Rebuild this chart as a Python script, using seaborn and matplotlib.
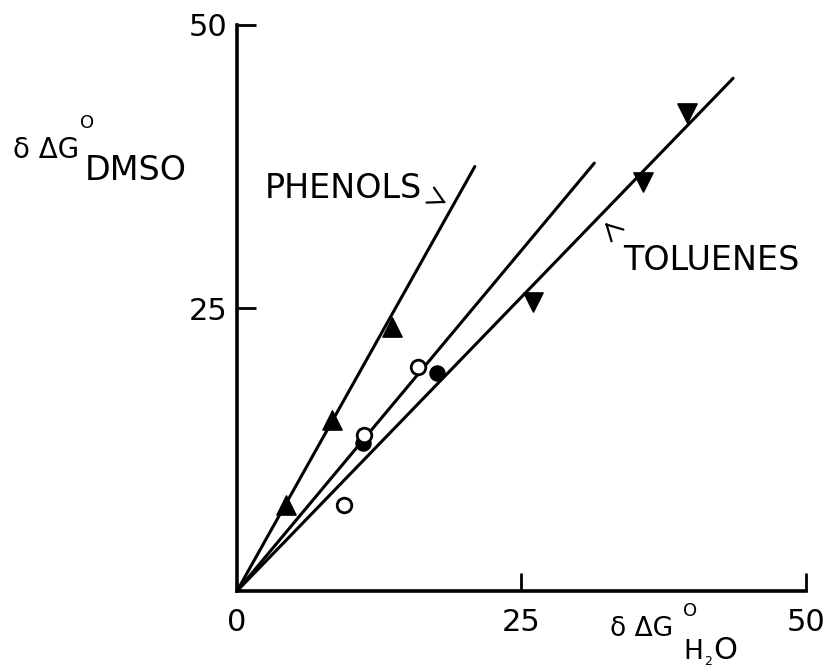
import matplotlib
matplotlib.use("Agg")
import matplotlib.pyplot as plt
import seaborn as sns
import pandas as pd

# ---- data ----
phenol_x = [4.3, 8.35, 13.6]
phenol_y = [7.6, 15.1, 23.3]

open_x = [9.4, 11.2, 15.9]
open_y = [7.6, 13.8, 19.8]

filled_x = [11.1, 17.6]
filled_y = [13.1, 19.3]

toluene_x = [26.0, 35.7, 39.5]
toluene_y = [25.5, 36.1, 42.2]

# fitted lines through origin: (end x, end y)
line_end_x = [20.9, 31.4, 43.6]
line_end_y = [37.5, 37.8, 45.3]

x_ticks = [0, 25, 50]
x_tick_labels = ["0", "25", "50"]
y_ticks = [25, 50]
y_tick_labels = ["25", "50"]

sns.set_theme(style="white")
plt.rcParams['font.family'] = ['DejaVu Sans']
plt.rcParams['text.color'] = 'black'

W, H = 837, 671
fig = plt.figure(figsize=(W / 100, H / 100), dpi=100)
ax = fig.add_axes([237 / W, 1 - 591 / H, (806 - 237) / W, (591 - 25) / H])

for ex, ey in zip(line_end_x, line_end_y):
    df = pd.DataFrame({"x": [0, ex], "y": [0, ey]})
    sns.lineplot(data=df, x="x", y="y", ax=ax, color="black", lw=2.2,
                 estimator=None, sort=False)

sns.scatterplot(x=phenol_x, y=phenol_y, ax=ax, marker="^", s=190,
                color="black", edgecolor="black", zorder=5)
sns.scatterplot(x=toluene_x, y=toluene_y, ax=ax, marker="v", s=190,
                color="black", edgecolor="black", zorder=5)
sns.scatterplot(x=filled_x, y=filled_y, ax=ax, marker="o", s=120,
                color="black", edgecolor="black", zorder=5)
sns.scatterplot(x=open_x, y=open_y, ax=ax, marker="o", s=110,
                facecolor="white", edgecolor="black", linewidth=2.0, zorder=6)

ax.set_xlim(0, 50)
ax.set_ylim(0, 50)
ax.set_xlabel("")
ax.set_ylabel("")
for s in ["top", "right"]:
    ax.spines[s].set_visible(False)
for s in ["left", "bottom"]:
    ax.spines[s].set_linewidth(2.6)
    ax.spines[s].set_color("black")

ax.set_xticks(x_ticks)
ax.set_xticklabels(x_tick_labels)
ax.set_yticks(y_ticks)
ax.set_yticklabels(y_tick_labels)
ax.tick_params(axis="x", direction="in", length=13, width=2, labelsize=22,
               pad=12, bottom=True, color="black", labelcolor="black")
ax.tick_params(axis="y", direction="in", length=14, width=2, labelsize=22,
               pad=7, left=True, color="black", labelcolor="black")
ax.xaxis.get_major_ticks()[0].tick1line.set_visible(False)


def ftext(x, y, s, size, **kw):
    """Place text at image-pixel coords (origin top-left), baseline-aligned."""
    fig.text(x / W, 1 - y / H, s, fontsize=size, ha="left", va="baseline",
             color="black", **kw)


# y-axis title: δ ΔG°_DMSO
ftext(13, 158, "δ ΔG", 20)
ftext(80, 128, "O", 13)
ftext(85, 180, "DMSO", 24)

# x-axis title: δ ΔG°_H2O
ftext(610, 636, "δ ΔG", 19)
ftext(683, 616, "O", 13)
ftext(683, 659, "H", 19)
ftext(704, 665, "2", 9)
ftext(713, 659, "O", 22)

# series labels
ftext(265, 198, "PHENOLS", 24)
ftext(623, 270, "TOLUENES", 24)


def caret(tip, tail):
    ax.annotate("", xy=(tip[0], H - tip[1]), xycoords="figure pixels",
                xytext=(tail[0], H - tail[1]), textcoords="figure pixels",
                arrowprops=dict(arrowstyle="->,head_length=0.55,head_width=0.3",
                                lw=1.6, color="black", shrinkA=0, shrinkB=0,
                                mutation_scale=20))


caret((446, 203), (444, 202))
caret((605, 223), (607, 225))

fig.savefig("out.png", dpi=100, facecolor="white")
